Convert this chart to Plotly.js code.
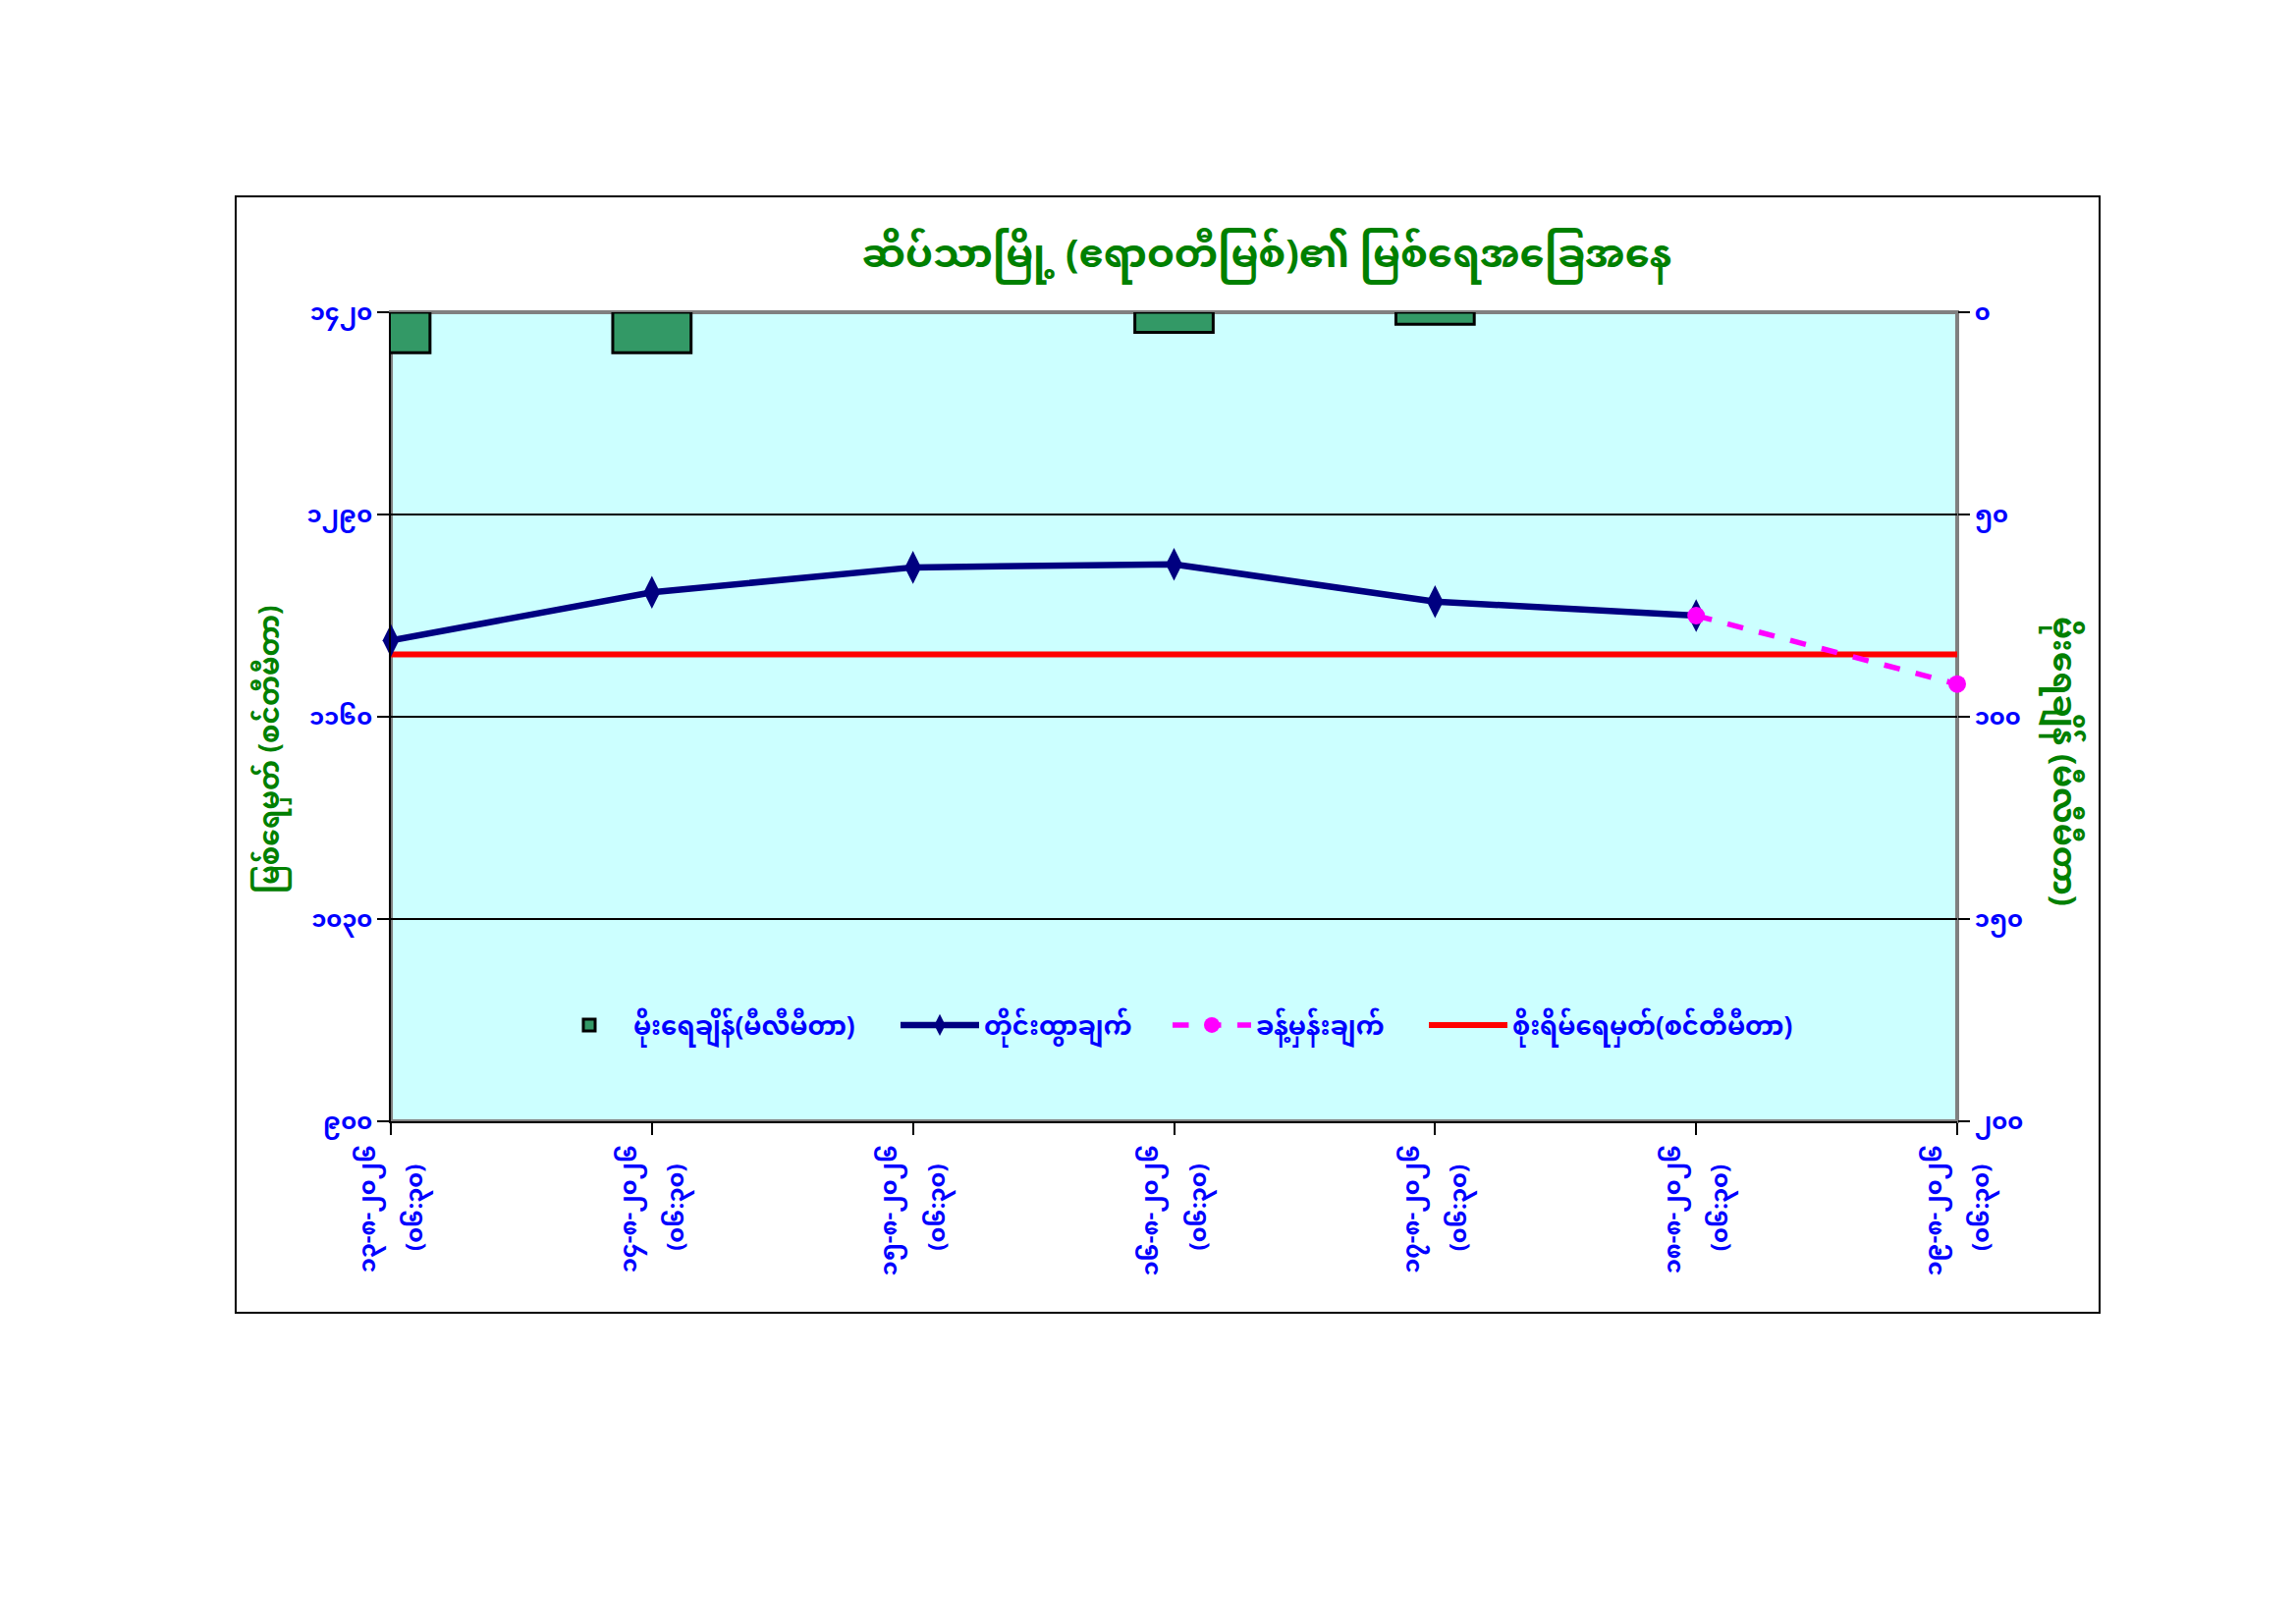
<!DOCTYPE html>
<html>
<head>
<meta charset="utf-8">
<script src="https://cdn.plot.ly/plotly-3.0.1.min.js"></script>
<style>
  body { margin: 0; background: white; }
  #chart { width: 2338px; height: 1654px; }
</style>
</head>
<body>
<div id="chart"></div>
<script>
// data
var xPos = [0, 1, 2, 3, 4, 5, 6];
var dates = ['၁၃-၈-၂၀၂၆', '၁၄-၈-၂၀၂၆', '၁၅-၈-၂၀၂၆', '၁၆-၈-၂၀၂၆', '၁၇-၈-၂၀၂၆', '၁၈-၈-၂၀၂၆', '၁၉-၈-၂၀၂၆'];
var times = ['(၀၆:၃၀)', '(၀၆:၃၀)', '(၀၆:၃၀)', '(၀၆:၃၀)', '(၀၆:၃၀)', '(၀၆:၃၀)', '(၀၆:၃၀)'];
var rain = [10, 10, 0, 5, 3, 0, null];
var measured = [1209, 1240, 1256, 1258, 1234, 1225, null];
var forecast = [null, null, null, null, null, 1225, 1181];
var danger = [1200, 1200, 1200, 1200, 1200, 1200, 1200];

var levelTicks = [900, 1030, 1160, 1290, 1420];
var levelTickText = ['၉၀၀', '၁၀၃၀', '၁၁၆၀', '၁၂၉၀', '၁၄၂၀'];
var rainTicks = [0, 50, 100, 150, 200];
var rainTickText = ['၀', '၅၀', '၁၀၀', '၁၅၀', '၂၀၀'];

var names = ['မိုးရေချိန်(မီလီမီတာ)', 'တိုင်းထွာချက်', 'ခန့်မှန်းချက်', 'စိုးရိမ်ရေမှတ်(စင်တီမီတာ)'];
var title = 'ဆိပ်သာမြို့ (ဧရာဝတီမြစ်)၏ မြစ်ရေအခြေအနေ';
var leftTitle = 'မြစ်ရေမှတ် (စင်တီမီတာ)';
var rightTitle = 'မိုးရေချိန် (မီလီမီတာ)';

var FONT = '"Noto Sans Myanmar", Padauk, "Myanmar Text", "Noto Sans", sans-serif';

// plot box in page pixels
var L = 398, R = 1993, T = 318, B = 1142;
function px(x){ return (x - L) / (R - L); }
function py(y){ return (B - y) / (B - T); }

// no outline on days without rain
var barLines = [];
for(var i=0; i<rain.length; i++){
  barLines.push(rain[i] > 0 ? 3 : 0);
}

var data = [
  {
    type: 'bar', name: names[0], x: xPos, y: rain, yaxis: 'y2', legend: 'legend',
    width: 0.3,
    marker: {color: '#339966', line: {color: 'black', width: barLines}},
  },
  {
    type: 'scatter', mode: 'lines', name: names[3], x: xPos, y: danger, legend: 'legend4',
    cliponaxis: false,
    line: {color: '#FF0000', width: 6},
  },
  {
    type: 'scatter', mode: 'lines+markers', name: names[1], x: xPos, y: measured, legend: 'legend2',
    cliponaxis: false,
    line: {color: '#000080', width: 6.5},
    marker: {symbol: 'diamond-tall', size: 24, color: '#000080'},
  },
  {
    type: 'scatter', mode: 'lines+markers', name: names[2], x: xPos, y: forecast, legend: 'legend3',
    cliponaxis: false,
    line: {color: '#FF00FF', width: 5.5, dash: 'dash'},
    marker: {symbol: 'circle', size: 18, color: '#FF00FF'},
  }
];

var tickFont = {family: FONT, size: 24, color: '#0000FF', weight: 'bold'};
var legFont = {family: FONT, size: 26, color: '#0000FF', weight: 'bold'};
var symW = 80;

function legendAt(textLeft){
  return {
    x: px(textLeft - symW - 16), y: py(1044), xanchor: 'left', yanchor: 'middle',
    orientation: 'h', bgcolor: 'rgba(0,0,0,0)', borderwidth: 0,
    itemwidth: symW, font: legFont
  };
}

var annotations = [
  {text: leftTitle, xref: 'paper', yref: 'paper', x: px(277), y: py(763),
   textangle: -90, showarrow: false, xanchor: 'center', yanchor: 'middle',
   font: {family: FONT, size: 28, color: '#008000', weight: 'bold'}},
  {text: rightTitle, xref: 'paper', yref: 'paper', x: px(2099), y: py(775),
   textangle: 90, showarrow: false, xanchor: 'center', yanchor: 'middle',
   font: {family: FONT, size: 33, color: '#008000', weight: 'bold'}}
];
// second line of the x labels
for(var i=0; i<xPos.length; i++){
  annotations.push({
    text: times[i], x: xPos[i], xref: 'x', y: py(1230), yref: 'paper',
    textangle: -90, showarrow: false, xanchor: 'center', yanchor: 'middle',
    xshift: 26, font: tickFont
  });
}

var layout = {
  width: 2338, height: 1654,
  margin: {l: L, r: 2338 - R, t: T, b: 1654 - B, pad: 0},
  paper_bgcolor: 'white',
  plot_bgcolor: '#CCFFFF',
  font: {family: FONT},
  title: {
    text: title, x: px(1290), xref: 'paper', xanchor: 'center',
    y: 1 - 258 / 1654, yanchor: 'middle',
    font: {family: FONT, size: 40, color: '#008000', weight: 'bold'}
  },
  showlegend: true,
  legend: legendAt(651),
  legend2: legendAt(1008),
  legend3: legendAt(1285),
  legend4: legendAt(1546),
  xaxis: {
    range: [0, 6], tickvals: xPos, ticktext: dates, tickangle: -90,
    ticklabelshift: -24,
    ticks: 'outside', ticklen: 12, tickcolor: 'black', tickwidth: 2,
    showgrid: false, zeroline: false, showline: true, linecolor: 'black', linewidth: 2,
    tickfont: tickFont
  },
  yaxis: {
    range: [900, 1420], tickvals: levelTicks, ticktext: levelTickText,
    ticks: 'outside', ticklen: 12, tickcolor: 'black', tickwidth: 2,
    showgrid: true, gridcolor: 'black', gridwidth: 1.5,
    zeroline: false, showline: true, linecolor: 'black', linewidth: 2,
    tickfont: tickFont
  },
  yaxis2: {
    overlaying: 'y', side: 'right', range: [200, 0],
    tickvals: rainTicks, ticktext: rainTickText,
    ticks: 'outside', ticklen: 12, tickcolor: 'black', tickwidth: 2,
    showgrid: false, zeroline: false, showline: false,
    tickfont: tickFont
  },
  shapes: [
    // plot area border
    {type: 'rect', xref: 'paper', yref: 'paper', x0: 0, x1: 1, y0: 0, y1: 1,
     line: {color: '#808080', width: 4}, layer: 'below'},
    // chart area border
    {type: 'rect', xref: 'paper', yref: 'paper', x0: px(240), x1: px(2138), y0: py(1337), y1: py(200),
     line: {color: 'black', width: 2}}
  ],
  annotations: annotations
};

Plotly.newPlot(document.getElementById('chart'), data, layout, {staticPlot: true});
</script>
</body>
</html>
